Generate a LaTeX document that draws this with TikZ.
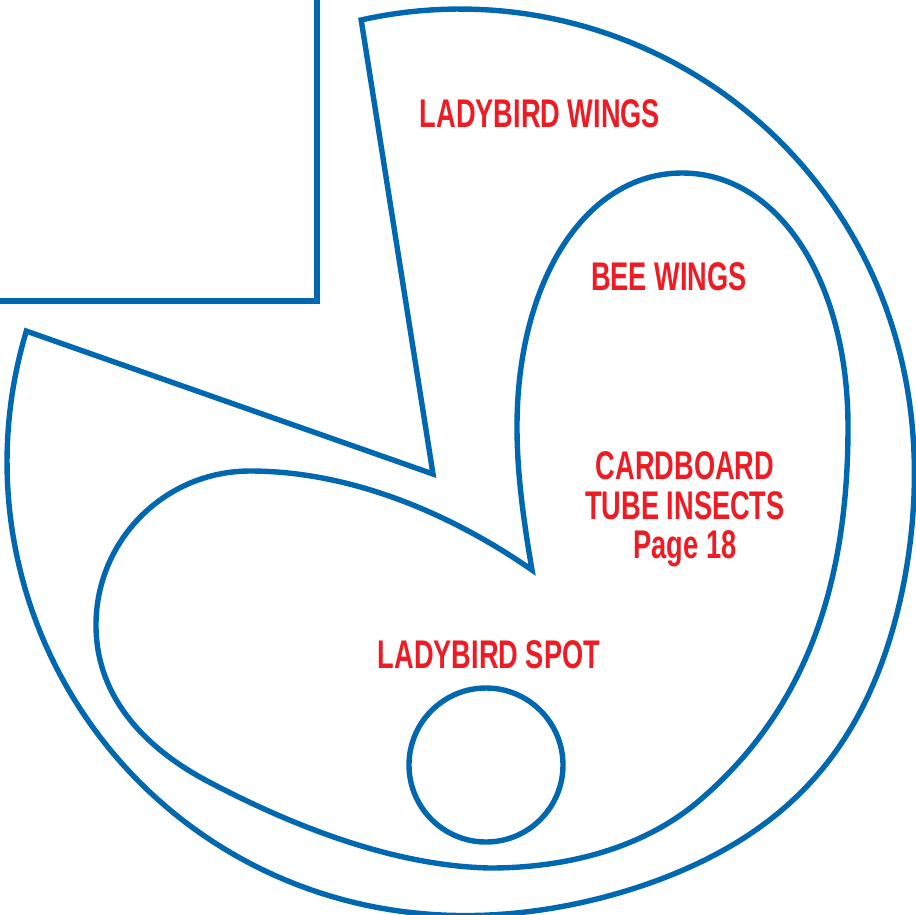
\documentclass[tikz,border=0pt]{standalone}
\usepackage{fontspec}
\usepackage{tikz}
\newfontfamily\labelfont{Liberation Sans Bold}[FakeStretch=0.68]
\definecolor{kitblue}{HTML}{0067B1}
\definecolor{kitred}{HTML}{ED1C24}

\begin{document}
\begin{tikzpicture}[x=1pt,y=-1pt,
    outline/.style={draw=kitblue, line width=5.4pt},
    lbl/.style={text=kitred, inner sep=0pt, anchor=base, font=\labelfont\fontsize{40}{40}\selectfont}]
    \useasboundingbox (0,0) rectangle (916,914);
    % box in the corner
    \draw[outline] (-5,301) -- (317,301) -- (317,-5);
    % outer piece with the notch
    \draw[outline] (433,474) -- plot[domain=257.4:556.8, samples=200, variable=\t]
        ({460+(453+22*exp(max(-9,-((\t-402)/25)^2)))*cos(\t)},
         {462+(453+22*exp(max(-9,-((\t-402)/25)^2)))*sin(\t)}) -- cycle;
    % inner piece
    \draw[outline] (532,570) .. controls (524,523) and (517,475) .. (517,427)
        .. controls (517,280) and (586,173) .. (682,173)
        .. controls (778,173) and (848,280) .. (848,427)
        .. controls (848,597) and (799,715) .. (700,800)
        .. controls (643,849) and (565,868) .. (490,868)
        .. controls (395,866) and (295,827) .. (211,783)
        .. controls (149,751) and (96,700) .. (96,625)
        .. controls (96,540) and (165,471) .. (250,471)
        .. controls (350,471) and (450,513) .. (532,570) -- cycle;
    % spot
    \draw[outline] (486,765) circle (77pt);
    \node[lbl] (wings) at (540,127) {LADYBIRD WINGS};
    \node[lbl] (bee) at (669,290) {BEE WINGS};
    \node[lbl] (tubeA) at (685,479) {CARDBOARD};
    \node[lbl] (tubeB) at (685,519) {TUBE INSECTS};
    \node[lbl] (tubeC) at (685,558) {Page 18};
    \node[lbl] (spottext) at (489,668) {LADYBIRD SPOT};
\end{tikzpicture}
\end{document}
